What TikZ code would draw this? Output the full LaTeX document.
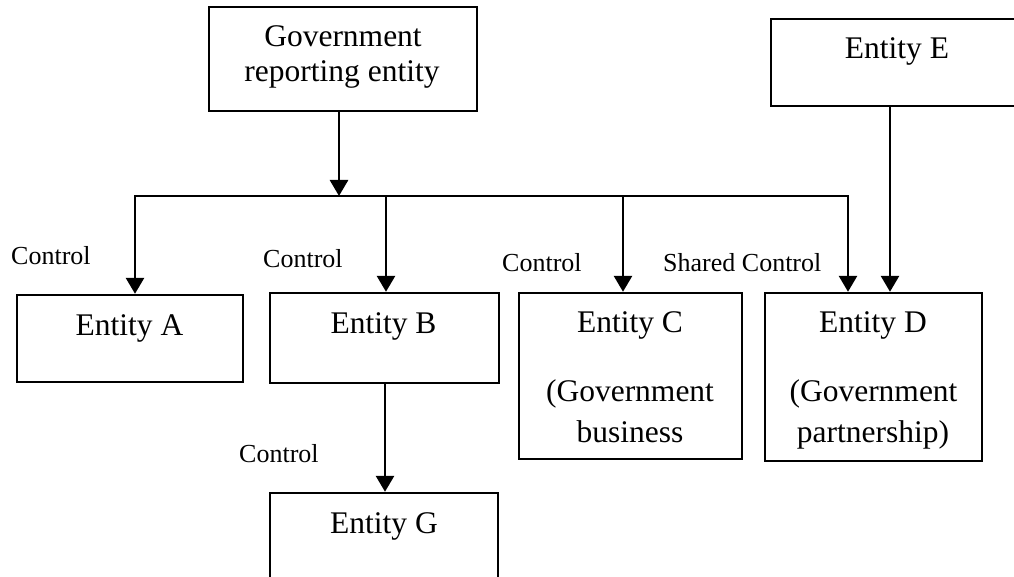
\documentclass[tikz,border=0pt]{standalone}
\usepackage{fontspec}
\setmainfont{Liberation Serif}
\usetikzlibrary{arrows.meta}
\tikzset{
  box/.style={draw=black, line width=2.4pt, rectangle, inner sep=0pt, fill=none},
  btext/.style={anchor=base, inner sep=0pt, font=\fontsize{31.5}{36}\selectfont},
  ltext/.style={anchor=base west, inner sep=0pt, font=\fontsize{26}{30}\selectfont},
  conn/.style={line width=2.8pt, draw=black},
  arr/.style={conn, -{Triangle[length=16pt,width=18pt]}}
}
\begin{document}
\begin{tikzpicture}[x=1pt,y=-1pt]
\useasboundingbox (0,0) rectangle (1014,577);
\clip (0,0) rectangle (1014,577);
\fill[white] (0,0) rectangle (1014,577);
% boxes
\node[box, minimum width=268pt, minimum height=104pt] (gov) at (343,59) {};
\node[box, minimum width=259pt, minimum height=87pt] (E) at (900.5,62.5) {};
\node[box, minimum width=226pt, minimum height=87pt] (A) at (130,338.5) {};
\node[box, minimum width=229pt, minimum height=90pt] (B) at (384.5,338) {};
\node[box, minimum width=223pt, minimum height=166pt] (C) at (630.5,376) {};
\node[box, minimum width=217pt, minimum height=168pt] (D) at (873.5,377) {};
\node[box, minimum width=228pt, minimum height=107pt] (G) at (384,546.5) {};
% box texts
\node[btext] (govt1) at (343,47) {Government};
\node[btext] (govt2) at (342,82) {reporting entity};
\node[btext] (Et) at (897,59) {Entity E};
\node[btext] (At) at (129.5,335) {Entity A};
\node[btext] (Bt) at (383.5,333) {Entity B};
\node[btext] (Ct1) at (630,332) {Entity C};
\node[btext] (Ct2) at (630,401) {(Government};
\node[btext] (Ct3) at (630,442) {business};
\node[btext] (Dt1) at (873,332) {Entity D};
\node[btext] (Dt2) at (873.5,401) {(Government};
\node[btext] (Dt3) at (873,442) {partnership)};
\node[btext] (Gt) at (384,533) {Entity G};
% labels
\node[ltext] (lA) at (11,265) {Control};
\node[ltext] (lB) at (263,268) {Control};
\node[ltext] (lC) at (502,272) {Control};
\node[ltext] (lD) at (663,272) {Shared Control};
\node[ltext] (lG) at (239,462) {Control};
% junction coordinates
\coordinate (j) at (339,196);
\coordinate (ja) at (135,196);
\coordinate (jb) at (386,196);
\coordinate (jc) at (623,196);
\coordinate (jd) at (848,196);
\coordinate (je) at (890,106);
\coordinate (jg) at (385,400);
% connectors
\draw[arr] (gov.south -| j) -- (j);
\draw[conn, line cap=rect] (ja) -- (jd);
\draw[arr] (ja) -- (ja |- A.north);
\draw[arr] (jb) -- (jb |- B.north);
\draw[arr] (jc) -- (jc |- C.north);
\draw[arr] (jd) -- (jd |- D.north);
\draw[arr] (je |- E.south) -- (je |- D.north);
\draw[arr] (jg |- B.south) -- (jg |- G.north);
\end{tikzpicture}
\end{document}
